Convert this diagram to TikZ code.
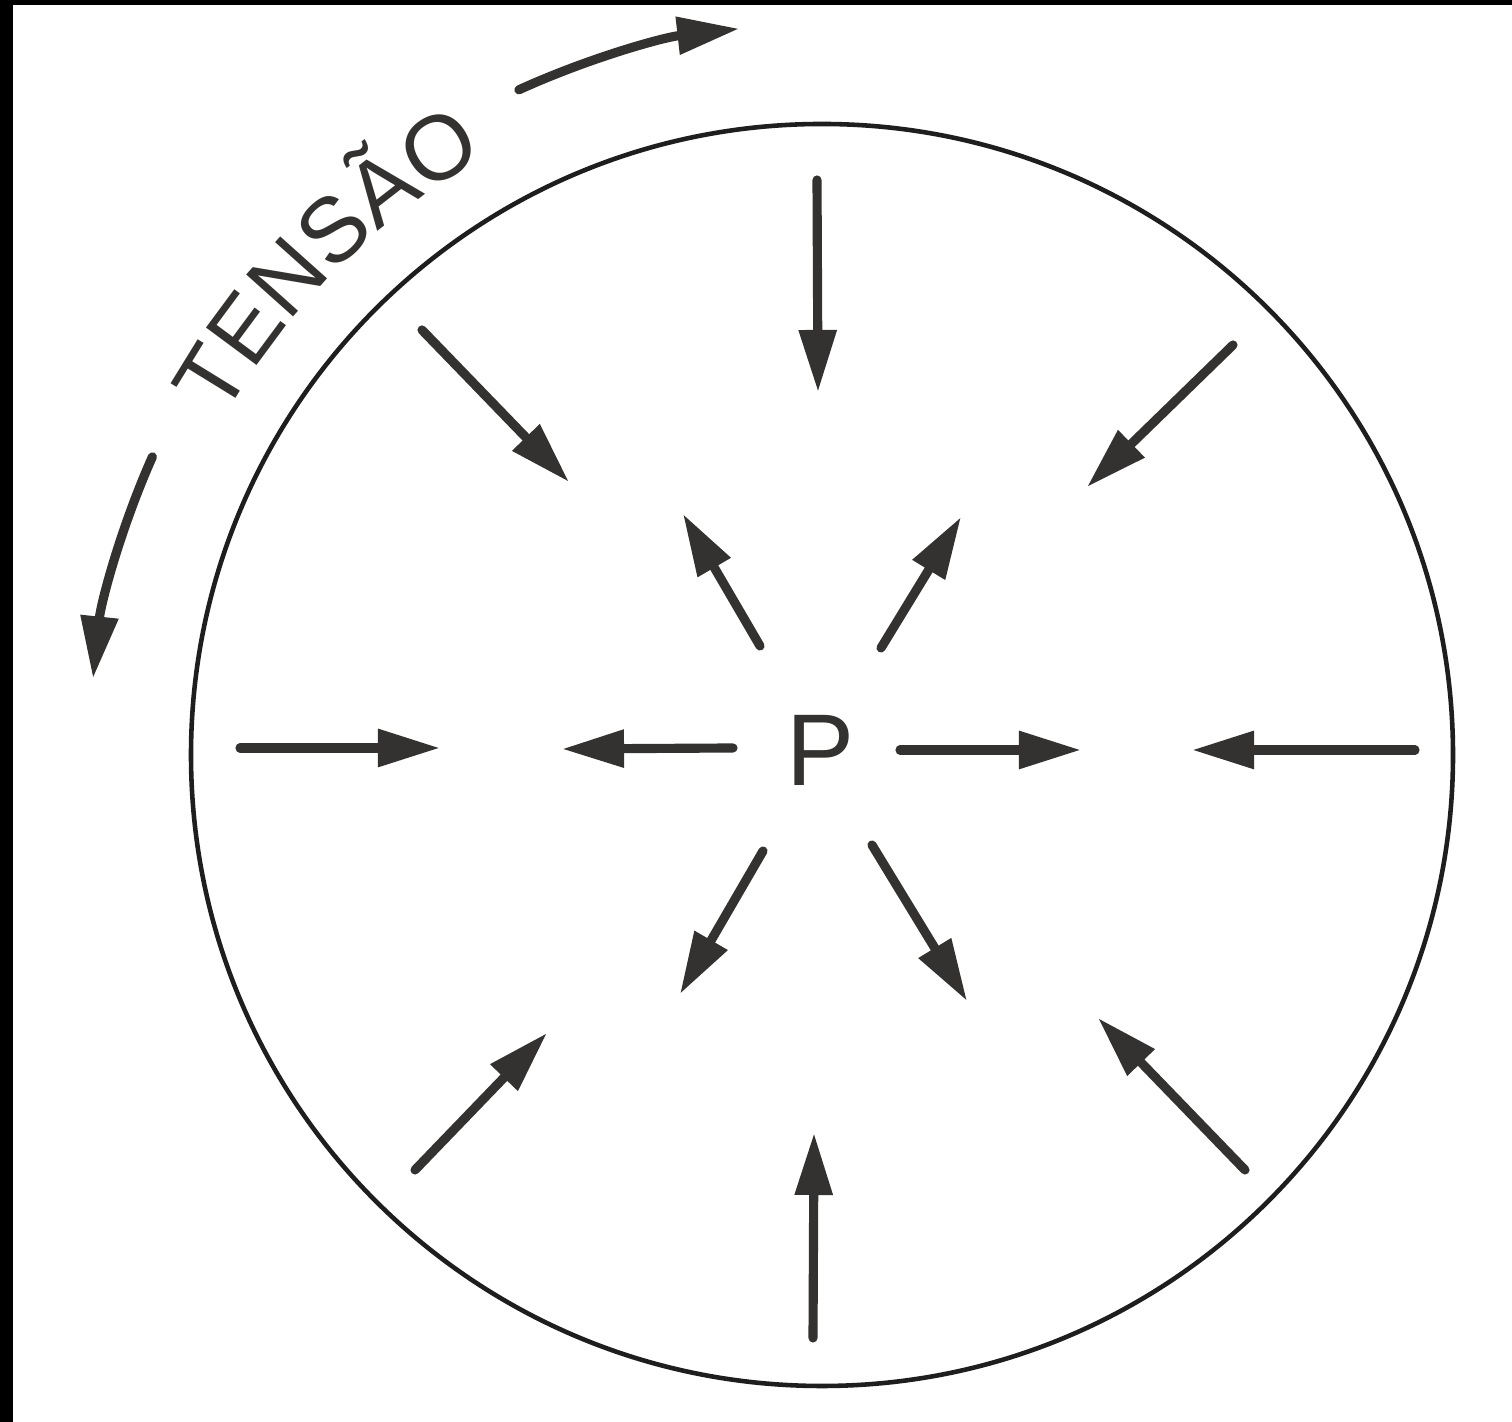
\documentclass[tikz,border=0pt]{standalone}
\usepackage{fontspec}
\setmainfont{Liberation Sans}
\usepackage{tikz}
\usetikzlibrary{arrows.meta, decorations.text}
\definecolor{inkgray}{RGB}{52, 50, 48}
\definecolor{rimgray}{RGB}{30, 30, 30}

\begin{document}
\begin{tikzpicture}[
    x=0.01cm, y=0.01cm,
    force/.style={-{Triangle[length=0.62cm, width=0.36cm]}, line width=2.6pt, line cap=round, draw=inkgray},
    rim/.style={draw=rimgray, line width=1.3pt}
]
    % page and scan edges
    \fill[white] (0,0) rectangle (1512,1422);
    \useasboundingbox (0,0) rectangle (1512,1422);
    \fill[black] (0,0) rectangle (13,1422);
    \fill[black] (0,1417) rectangle (1512,1422);

    \coordinate (C) at (822,667);
    \draw[rim] (C) circle[radius=631];

    \node[font=\fontsize{29pt}{29pt}\selectfont, text=inkgray] (P) at (821,672) {P};

    % outer arrows (pointing in)
    \draw[force] (817,1242) -- (818,1030);
    \draw[force] (422,1092) -- (569,940);
    \draw[force] (1233,1077) -- (1087,935);
    \draw[force] (240,674) -- (440,674);
    \draw[force] (1415,672) -- (1192,672);
    \draw[force] (415,252) -- (547,389);
    \draw[force] (813,84) -- (814,289);
    \draw[force] (1245,252) -- (1098,404);

    % inner arrows (pointing out of P)
    \draw[force] (760,776) -- (683,908);
    \draw[force] (881,774) -- (961,905);
    \draw[force] (733,674) -- (562,673);
    \draw[force] (900,672) -- (1081,672);
    \draw[force] (763,571) -- (680,428);
    \draw[force] (872,577) -- (967,421);

    % tension label and arcs
    \draw[force] (C) ++(114.5:731) arc[start angle=114.5, end angle=96.5, radius=731];
    \draw[force] (C) ++(156:733) arc[start angle=156, end angle=174, radius=733];
    \path[decorate, decoration={text along path, text align=center,
        text={|\fontsize{26pt}{26pt}\selectfont\color{inkgray}|TENSÃO}}]
        (C) ++(160:686) arc[start angle=160, end angle=110, radius=686];
\end{tikzpicture}
\end{document}
